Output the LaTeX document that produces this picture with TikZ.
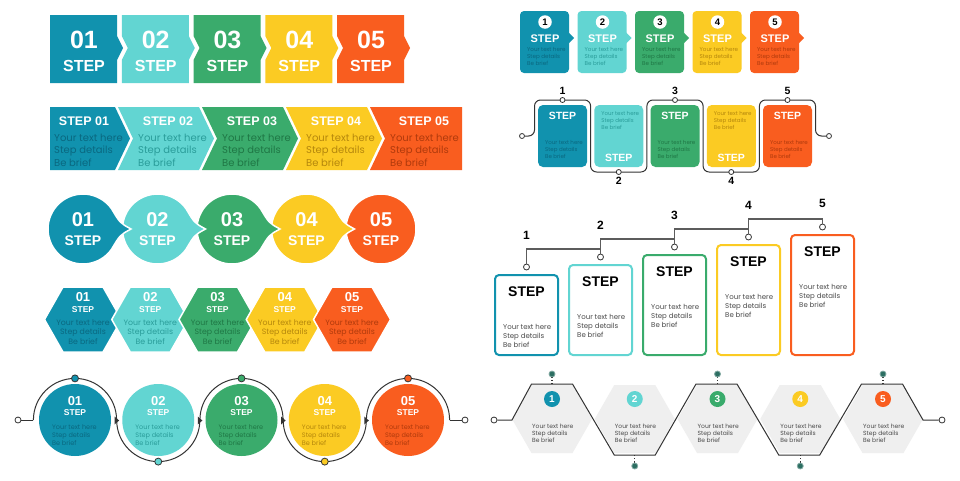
\documentclass[tikz,border=0pt]{standalone}
\usepackage{fontspec}
\setmainfont{Liberation Sans}
\newfontfamily\popfont{Poppins}
\usepackage{tikz}
\usetikzlibrary{shapes.geometric, arrows.meta, positioning, calc}

\definecolor{col1}{HTML}{1192AE}
\definecolor{col2}{HTML}{62D5D2}
\definecolor{col3}{HTML}{3AAB6C}
\definecolor{col4}{HTML}{FBCB23}
\definecolor{col5}{HTML}{F95D1F}
\definecolor{txt1}{HTML}{0A6880}
\definecolor{txt2}{HTML}{2A9D9A}
\definecolor{txt3}{HTML}{1F7745}
\definecolor{txt4}{HTML}{B5870C}
\definecolor{txt5}{HTML}{B03A0C}
\definecolor{wire}{HTML}{333333}
\definecolor{bodygray}{HTML}{4A4A4A}
\definecolor{hexgray}{HTML}{EFEFEF}
\definecolor{dotgreen}{HTML}{2C6E62}

\newcommand{\fsz}[1]{\fontsize{#1}{#1}\selectfont}
\newcommand{\stepbody}{Your text here\\Step details\\Be brief}

\begin{document}
\begin{tikzpicture}[
    x=1pt, y=-1pt,
    bignum/.style={text=white, font=\bfseries\fsz{#1}, inner sep=0pt},
    steplbl/.style={text=white, font=\bfseries\fsz{#1}, inner sep=0pt},
    bodytxt/.style 2 args={font=\popfont\fontsize{#1}{#2}\selectfont, align=left, anchor=base west, inner sep=0pt},
    knob/.style={circle, draw=wire, fill=white, line width=0.8pt, inner sep=0pt, minimum size=#1},
    wireline/.style={draw=wire, line width=1pt},
    treeline/.style={draw=wire!80, line width=1.1pt},
    darkdot/.style={circle, fill=dotgreen, draw=dotgreen!60, line width=0.8pt, inner sep=0pt, minimum size=6pt}
]
\useasboundingbox (0,0) rectangle (960,480);
\fill[white] (0,0) rectangle (960,480);

% notched blocks
\foreach \i in {1,...,5} {
    \pgfmathsetmacro{\xa}{50+71.75*(\i-1)}
    \pgfmathsetmacro{\xb}{\xa+67}
    \pgfmathsetmacro{\nd}{ifthenelse(\i==1,0,6)}
    \fill[col\i] (\xa,15) -- (\xb,15) -- (\xb,36) -- (\xb+6,48) -- (\xb,60) -- (\xb,83) -- (\xa,83) -- (\xa,60) -- (\xa+\nd,48) -- (\xa,36) -- cycle;
    \node[bignum=25] (anum\i) at (\xa+34,40) {0\i};
    \node[steplbl=16, below=11pt of anum\i] (astep\i) {STEP};
}

% chevrons
\foreach \i in {1,...,5} {
    \pgfmathsetmacro{\xl}{34+84*(\i-1)}
    \pgfmathsetmacro{\xs}{ifthenelse(\i==1,50,\xl)}
    \pgfmathsetmacro{\nt}{ifthenelse(\i==1,0,15)}
    \pgfmathsetmacro{\xr}{ifthenelse(\i==5,462,\xl+81)}
    \pgfmathsetmacro{\tp}{ifthenelse(\i==5,0,15)}
    \pgfmathsetmacro{\xt}{ifthenelse(\i==5,424,\xl+50)}
    \fill[col\i] (\xs,107) -- (\xr,107) -- (\xr+\tp,138.5) -- (\xr,170) -- (\xs,170) -- (\xs+\nt,138.5) -- cycle;
    \node[steplbl=12.5] (btitle\i) at (\xt,121) {STEP 0\i};
    \node[bodytxt={10}{12.5}, text=txt\i] (bbody\i) at (\xl+20,166) {\stepbody};
}

% circles with pointer
\foreach \i in {5,4,...,1} {
    \pgfmathsetmacro{\cx}{83+74.5*(\i-1)}
    \ifnum\i<5
        \filldraw[col\i, draw=white, line width=1.5pt] (\cx,229) ++(35:35) arc[start angle=35, end angle=325, radius=35] .. controls (\cx+37,223) .. (\cx+48,229) .. controls (\cx+37,235) .. (\cx+28.67,249.07) -- cycle;
    \else
        \filldraw[col\i, draw=white, line width=1.5pt] (\cx,229) circle (35);
    \fi
    \node[bignum=20] (cnum\i) at (\cx,220) {0\i};
    \node[steplbl=14] (cstep\i) at (\cx,241) {STEP};
}

% hexagons
\foreach \i in {1,...,5} {
    \pgfmathsetmacro{\cx}{83+67.25*(\i-1)}
    \filldraw[col\i, draw=white, line width=1.5pt] (\cx-38.5,319.5) -- (\cx-20,287) -- (\cx+20,287) -- (\cx+38.5,319.5) -- (\cx+20,352) -- (\cx-20,352) -- cycle;
    \node[bignum=13] (dnum\i) at (\cx,297) {0\i};
    \node[steplbl=8.5] (dstep\i) at (\cx,310) {STEP};
    \node[bodytxt={7.8}{9.5}, align=center, anchor=base, text=txt\i] (dbody\i) at (\cx,344) {\stepbody};
}

% circles on a winding line
\node[knob=6pt] (ein) at (18,420) {};
\node[knob=6pt] (eout) at (465,420) {};
\draw[wireline] (ein) -- (33.4,420);
\draw[wireline] (449.6,420) -- (eout);
\foreach \i in {1,...,5} {
    \pgfmathsetmacro{\cx}{75+83.25*(\i-1)}
    \pgfmathsetmacro{\ea}{ifthenelse(mod(\i,2)==1,360,0)}
    \pgfmathsetmacro{\dy}{ifthenelse(mod(\i,2)==1,378.4,461.6)}
    \fill[col\i] (\cx,420) circle (36);
    \draw[wireline] (\cx-41.6,420) arc[start angle=180, end angle=\ea, radius=41.6];
    \ifnum\i<5
        \fill[wire] (\cx+39.6,416.5) -- (\cx+44.1,420.5) -- (\cx+39.6,424.5) -- cycle;
    \fi
    \node[circle, fill=col\i, draw=wire, line width=0.8pt, inner sep=0pt, minimum size=7pt] (edot\i) at (\cx,\dy) {};
    \node[bignum=13] (enum\i) at (\cx,401) {0\i};
    \node[steplbl=8.5] (estep\i) at (\cx,413) {STEP};
    \node[bodytxt={6.5}{8}, text=txt\i] (ebody\i) at (\cx-23,445.3) {\stepbody};
}

% small tabs
\foreach \i in {1,...,5} {
    \pgfmathsetmacro{\xl}{520+57.5*(\i-1)}
    \fill[col\i, rounded corners=4pt] (\xl,11) rectangle (\xl+49,73);
    \fill[col\i] (\xl+48,32) -- (\xl+54,38) -- (\xl+48,44) -- cycle;
    \node[circle, fill=white, minimum size=13.5pt, inner sep=0pt, font=\bfseries\fsz{9.5}] (fnum\i) at (\xl+25,22) {\i};
    \node[steplbl=11] (fstep\i) at (\xl+25,38.5) {STEP};
    \node[bodytxt={5.6}{7}, text=txt\i] (fbody\i) at (\xl+7,65) {\stepbody};
}

% tabs on a meander
\node[knob=5pt] (gin) at (522,136) {};
\node[knob=5pt] (gout) at (829,136) {};
\draw[wireline, rounded corners=6pt] (gin) -- (534.5,136) -- (534.5,100) -- (590.6,100) -- (590.6,172) -- (646.9,172) -- (646.9,100) -- (703.1,100) -- (703.1,172) -- (759.4,172) -- (759.4,100) -- (815.5,100) -- (815.5,136) -- (gout);
\foreach \i in {1,...,5} {
    \pgfmathsetmacro{\xl}{538+56.25*(\i-1)}
    \fill[col\i, rounded corners=5pt] (\xl,105) rectangle (\xl+49,167);
    \ifodd\i
        \node[steplbl=10.5] (gstep\i) at (\xl+24.5,115.5) {STEP};
        \node[bodytxt={5.5}{7}, text=txt\i] (gbody\i) at (\xl+7,158) {\stepbody};
        \node[knob=5pt] (gpt\i) at (\xl+24.5,100) {};
        \node[font=\bfseries\fsz{10.5}, inner sep=0pt] (glab\i) at (\xl+24.5,91) {\i};
    \else
        \node[bodytxt={5.5}{7}, text=txt\i] (gbody\i) at (\xl+7,129) {\stepbody};
        \node[steplbl=10.5] (gstep\i) at (\xl+24.5,158) {STEP};
        \node[knob=5pt] (gpt\i) at (\xl+24.5,172) {};
        \node[font=\bfseries\fsz{10.5}, inner sep=0pt] (glab\i) at (\xl+24.5,181) {\i};
    \fi
}

% staircase of outlined cards
\foreach \i in {1,...,5} {
    \pgfmathsetmacro{\xl}{495+74*(\i-1)}
    \pgfmathsetmacro{\yt}{275-10*(\i-1)}
    \pgfmathsetmacro{\yn}{ifthenelse(\i==5,203,235-10*(\i-1))}
    \draw[col\i, line width=2pt, fill=white, rounded corners=4pt] (\xl,\yt) rectangle (\xl+63,355);
    \node[knob=6pt] (hpt\i) at (\xl+31.5,\yt-8) {};
    \node[font=\bfseries\fsz{14}, inner sep=0pt] (hstep\i) at (\xl+31.5,\yt+17) {STEP};
    \node[bodytxt={7}{9}, text=bodygray] (hbody\i) at (\xl+8,\yt+72.5) {\stepbody};
    \node[font=\bfseries\fsz{12}, inner sep=0pt] (hlab\i) at (\xl+31.5,\yn) {\i};
}
\coordinate (lv1) at (600.5,249);
\coordinate (lv2) at (674.5,239);
\coordinate (lv3) at (748.5,229);
\coordinate (lv4) at (822.5,219);
\draw[treeline] (hpt1.north) |- (lv1) |- (lv2) |- (lv3) |- (lv4) -- (hpt5.north);
\foreach \i/\j in {2/1,3/2,4/3} {
    \draw[treeline] (hpt\i.north) -- (lv\j);
}

% grey hexagons on a zigzag
\foreach \i in {1,...,5} {
    \pgfmathsetmacro{\cx}{552+82.75*(\i-1)}
    \fill[hexgray] (\cx-40,419) -- (\cx-20.5,385) -- (\cx+20.5,385) -- (\cx+40,419) -- (\cx+20.5,453) -- (\cx-20.5,453) -- cycle;
}
\node[knob=6pt] (kin) at (494,420) {};
\node[knob=6pt] (kout) at (942,420) {};
\draw[wireline] (kin) -- (512,420) -- (531.5,384) -- (572.5,384) -- (614.25,455) -- (655.25,455) -- (696,384) -- (737,384) -- (778.75,455) -- (819.75,455) -- (861.5,384) -- (902.5,384) -- (923,420) -- (kout);
\foreach \i in {1,...,5} {
    \pgfmathsetmacro{\cx}{552+82.75*(\i-1)}
    \ifodd\i
        \draw[wire, dotted, line width=1.2pt] (\cx,384) -- (\cx,377);
        \node[darkdot] (kdot\i) at (\cx,374) {};
    \else
        \draw[wire, dotted, line width=1.2pt] (\cx,455) -- (\cx,463);
        \node[darkdot] (kdot\i) at (\cx,466) {};
    \fi
    \node[circle, fill=col\i, minimum size=16pt, inner sep=0pt, text=white, font=\bfseries\fsz{10}] (knum\i) at (\cx,399) {\i};
    \node[bodytxt={6}{7}, text=bodygray] (kbody\i) at (\cx-20,442) {\stepbody};
}

\end{tikzpicture}
\end{document}
